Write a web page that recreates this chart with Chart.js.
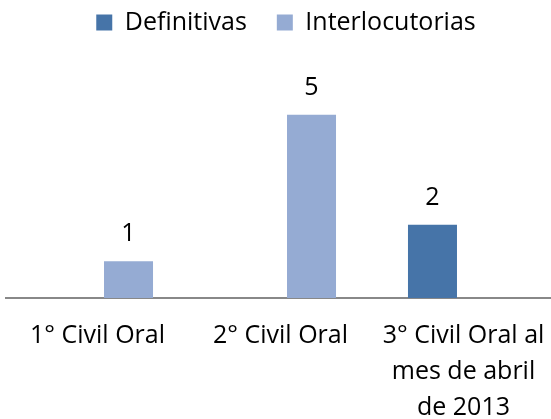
<!DOCTYPE html>
<html>
<head>
<meta charset="utf-8">
<script src="https://cdn.jsdelivr.net/npm/chart.js@4/dist/chart.umd.min.js"></script>
<style>
  body { margin: 0; overflow: hidden; background: #fff; }
  #wrap { width: 551px; height: 419px; overflow: hidden; }
</style>
</head>
<body>
<div id="wrap"><canvas id="myChart" width="580" height="419"></canvas></div>
<script>
const categories = ['1° Civil Oral', '2° Civil Oral', ['3° Civil Oral al', 'mes de abril', 'de 2013']];
const definitivas = [null, null, 2];
const interlocutorias = [1, 5, null];

const fontFamily = '"Open Sans", sans-serif';

// numbers over the bars
const valueLabels = {
    id: 'valueLabels',
    afterDatasetsDraw(chart) {
        const ctx = chart.ctx;
        ctx.save();
        ctx.font = '25px ' + fontFamily;
        ctx.fillStyle = '#000';
        ctx.textAlign = 'center';
        ctx.textBaseline = 'alphabetic';
        chart.data.datasets.forEach((ds, i) => {
            const meta = chart.getDatasetMeta(i);
            meta.data.forEach((bar, j) => {
                if (ds.data[j] === null) return;
                ctx.fillText(String(ds.data[j]), bar.x, bar.y - 20);
            });
        });
        ctx.restore();
    }
};

const ctx = document.getElementById('myChart');
new Chart(ctx, {
    type: 'bar',
    data: {
        labels: categories,
        datasets: [{
            label: 'Definitivas',
            data: definitivas,
            backgroundColor: '#4674A8',
            categoryPercentage: 0.678,
            barPercentage: 0.79
        }, {
            label: 'Interlocutorias',
            data: interlocutorias,
            backgroundColor: '#95ABD3',
            categoryPercentage: 0.678,
            barPercentage: 0.79
        }]
    },
    options: {
        responsive: false,
        animation: false,
        layout: { padding: { left: 6, right: 14, top: -20, bottom: 0 } },
        plugins: {
            legend: {
                position: 'top',
                labels: {
                    boxWidth: 16,
                    boxHeight: 16,
                    padding: 30,
                    color: '#000',
                    font: { family: fontFamily, size: 25 }
                }
            },
            tooltip: { enabled: false }
        },
        scales: {
            x: {
                grid: { display: false, drawTicks: false },
                border: { display: true, color: '#888888', width: 2 },
                ticks: {
                    color: '#000',
                    padding: 20,
                    maxRotation: 0,
                    autoSkip: false,
                    font: { family: fontFamily, size: 25, lineHeight: 1.44 }
                },
                afterFit(scale) {
                    scale.height = 121;
                    scale.paddingRight = 25;
                }
            },
            y: {
                display: false,
                min: 0,
                max: 6.9
            }
        }
    },
    plugins: [valueLabels]
});
</script>
</body>
</html>
